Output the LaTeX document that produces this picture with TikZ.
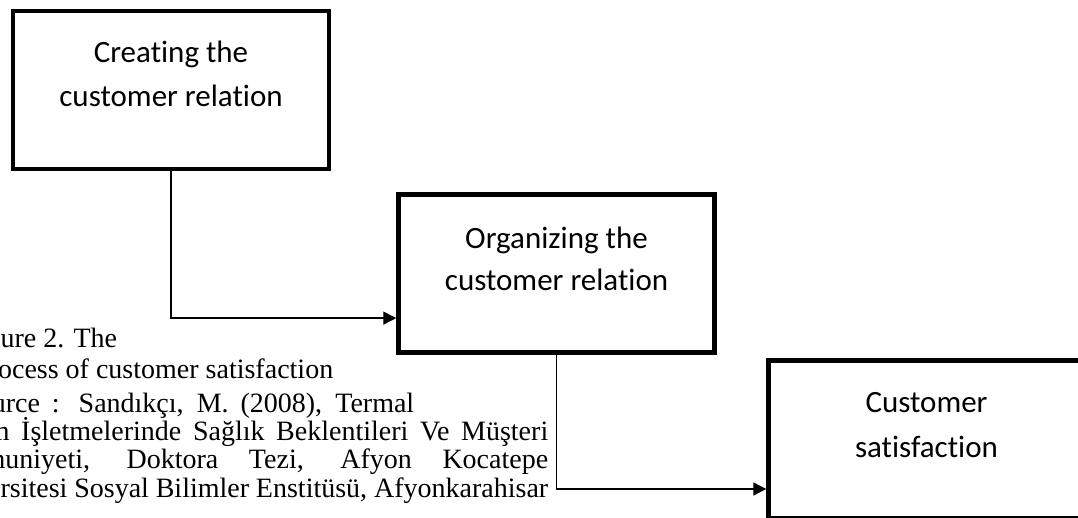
\documentclass[tikz,border=0pt]{standalone}
\usepackage{fontspec}
\setmainfont{Liberation Serif}
\newfontfamily\stagefont[Ligatures=NoCommon]{Carlito}
\usetikzlibrary{arrows.meta,calc}
\begin{document}
\begin{tikzpicture}[x=1pt,y=-1pt,
  stagebox/.style={draw,line width=4.5pt,minimum width=316pt,minimum height=158pt,inner sep=0pt},
  stagetext/.style={font=\stagefont\fontsize{31}{37}\selectfont,inner sep=0pt,anchor=base},
  flow/.style={line width=1.4pt,-{Triangle[length=13pt,width=13pt]}},
  captext/.style={font=\fontsize{28}{32}\selectfont,inner sep=0pt,anchor=base west}]
\useasboundingbox (0,0) rectangle (1078,518);
\clip (0,0) rectangle (1078,518);

% the three stages
\node[stagebox] (b1) at (171,90) {};
\node[stagebox] (b2) at (556.5,273.5) {};
\node[stagebox] (b3) at (926.5,439.5) {};

\node[stagetext] (b1a) at ($(b1.north)+(0,54)$) {Creating the};
\node[stagetext] (b1b) at ($(b1.north)+(0,98)$) {customer relation};
\node[stagetext] (b2a) at ($(b2.north)+(0,56)$) {Organizing the};
\node[stagetext] (b2b) at ($(b2.north)+(0,98)$) {customer relation};
\node[stagetext] (b3a) at ($(b3.north)+(0,54)$) {Customer};
\node[stagetext] (b3b) at ($(b3.north)+(0,99)$) {satisfaction};

% elbow connectors into the left side of the next stage
\draw[flow] (b1.south) |- ($(b2.south west)!0.2255!(b2.north west)$);
\draw[flow] (b2.south) |- ($(b3.south west)!0.1954!(b3.north west)$);

% caption and source
\node[captext] (c1) at (-37,347) {Figure 2. The};
\node[captext] (c2) at (-27,378) {Process of customer satisfaction};
\node[captext] (c3) at (-38,412) {\makebox[452pt][s]{Source : Sandıkçı, M. (2008), Termal}};
\node[captext] (c4) at (-72,440) {\makebox[620pt][s]{Turizm İşletmelerinde Sağlık Beklentileri Ve Müşteri}};
\node[captext] (c5) at (-68,468) {\makebox[616pt][s]{Memnuniyeti, Doktora Tezi, Afyon Kocatepe}};
\node[captext] (c6) at (-68,497) {\makebox[616pt][s]{Üniversitesi Sosyal Bilimler Enstitüsü, Afyonkarahisar}};
\end{tikzpicture}
\end{document}
